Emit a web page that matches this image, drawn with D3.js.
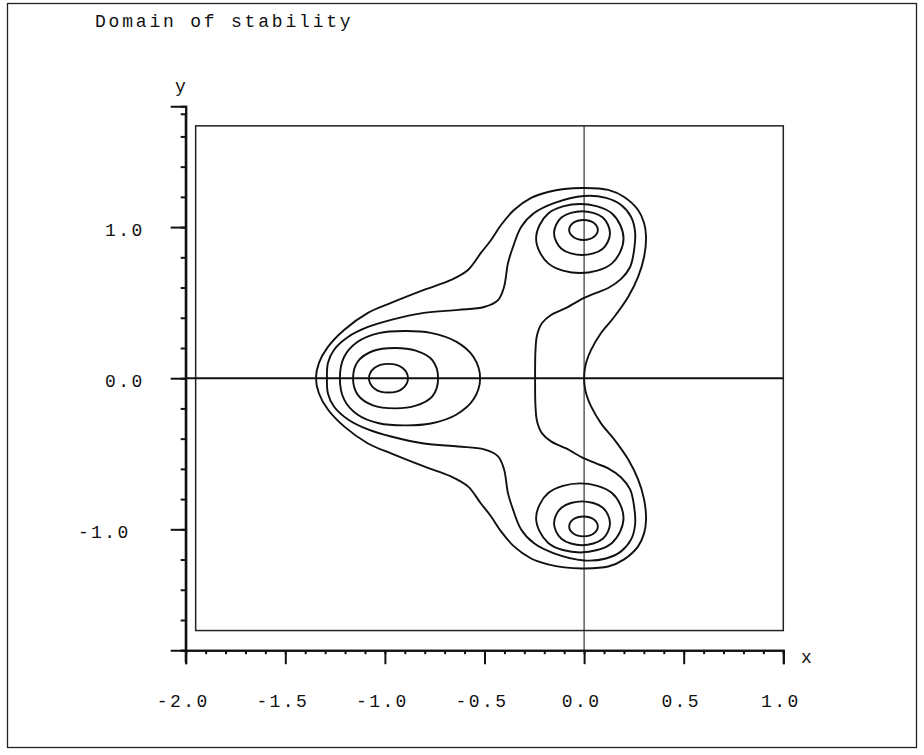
<!DOCTYPE html>
<html>
<head>
<meta charset="utf-8">
<script src="https://cdn.jsdelivr.net/npm/d3@7"></script>
<style>
  body { margin: 0; background: #fff; }
  text { font-family: "Liberation Mono", "DejaVu Sans Mono", monospace; fill: #111; }
</style>
</head>
<body>
<div id="chart"></div>
<script>
// tick labels
const xTickLabels = [-2.0, -1.5, -1.0, -0.5, 0.0, 0.5, 1.0];
const yTickLabels = [-1.0, 0.0, 1.0];

// plotting box of the domain
const boxX = [-1.95, 1.0];
const boxY = [-1.67, 1.67];

// contour lines, [x, y]
const outerContour = [
  [0.000, 0.000], [0.003, 0.054], [0.012, 0.110], [0.035, 0.187], [0.085, 0.299], [0.151, 0.405],
  [0.221, 0.537], [0.271, 0.670], [0.301, 0.802], [0.311, 0.935], [0.301, 1.027],
  [0.271, 1.113], [0.201, 1.199], [0.121, 1.246], [0.000, 1.259], [-0.100, 1.252],
  [-0.181, 1.232], [-0.266, 1.193], [-0.352, 1.113], [-0.417, 1.014], [-0.467, 0.915],
  [-0.518, 0.829], [-0.583, 0.716], [-0.668, 0.650], [-0.804, 0.584], [-0.969, 0.498],
  [-1.085, 0.432], [-1.205, 0.319], [-1.286, 0.207], [-1.331, 0.101], [-1.346, 0.000],
  [-1.331, -0.101], [-1.286, -0.207], [-1.205, -0.319], [-1.085, -0.432], [-0.969, -0.498],
  [-0.804, -0.584], [-0.668, -0.650], [-0.583, -0.716], [-0.518, -0.829], [-0.467, -0.915],
  [-0.417, -1.014], [-0.352, -1.113], [-0.266, -1.193], [-0.181, -1.232], [-0.100, -1.252],
  [0.000, -1.259], [0.121, -1.246], [0.201, -1.199], [0.271, -1.113], [0.301, -1.027],
  [0.311, -0.935], [0.301, -0.802], [0.271, -0.670], [0.221, -0.537], [0.151, -0.405],
  [0.085, -0.299], [0.035, -0.187], [0.012, -0.110], [0.003, -0.054]
];

const innerContour = [
  [-0.246, 0.000], [-0.244, 0.187], [-0.236, 0.286], [-0.211, 0.365], [-0.166, 0.418],
  [-0.090, 0.465], [0.000, 0.531], [0.060, 0.564], [0.121, 0.597], [0.186, 0.657],
  [0.231, 0.736], [0.251, 0.848], [0.256, 0.968], [0.236, 1.067], [0.186, 1.146],
  [0.110, 1.193], [0.000, 1.206], [-0.151, 1.159], [-0.251, 1.093], [-0.316, 1.001],
  [-0.357, 0.868], [-0.382, 0.762], [-0.402, 0.603], [-0.432, 0.517], [-0.502, 0.471],
  [-0.633, 0.452], [-0.804, 0.432], [-0.969, 0.386], [-1.085, 0.339], [-1.185, 0.273],
  [-1.256, 0.187], [-1.286, 0.101], [-1.291, 0.000],
  [-1.286, -0.101], [-1.256, -0.187], [-1.185, -0.273], [-1.085, -0.339], [-0.969, -0.386],
  [-0.804, -0.432], [-0.633, -0.452], [-0.502, -0.471], [-0.432, -0.517], [-0.402, -0.603],
  [-0.382, -0.762], [-0.357, -0.868], [-0.316, -1.001], [-0.251, -1.093], [-0.151, -1.159],
  [0.000, -1.206], [0.110, -1.193], [0.186, -1.146], [0.236, -1.067], [0.256, -0.968],
  [0.251, -0.848], [0.231, -0.736], [0.186, -0.657], [0.121, -0.597], [0.060, -0.564],
  [0.000, -0.531], [-0.090, -0.465], [-0.166, -0.418], [-0.211, -0.365], [-0.236, -0.286],
  [-0.244, -0.187]
];

// closed rings round the three centres
const leftRing1 = [
  [-0.884, 0.000], [-0.911, 0.068], [-0.982, 0.095], [-1.053, 0.068], [-1.080, 0.000],
  [-1.053, -0.068], [-0.982, -0.095], [-0.911, -0.068]
];
const leftRing2 = [
  [-0.733, 0.000], [-0.762, 0.120], [-0.845, 0.182], [-0.950, 0.200], [-1.060, 0.180],
  [-1.135, 0.112], [-1.160, 0.000], [-1.135, -0.112], [-1.060, -0.180], [-0.950, -0.200],
  [-0.845, -0.182], [-0.762, -0.120]
];
const leftRing3 = [
  [-0.522, 0.000], [-0.555, 0.140], [-0.640, 0.240], [-0.770, 0.300], [-0.900, 0.312],
  [-1.030, 0.298], [-1.140, 0.238], [-1.205, 0.140], [-1.226, 0.000], [-1.205, -0.140],
  [-1.140, -0.238], [-1.030, -0.298], [-0.900, -0.312], [-0.770, -0.300], [-0.640, -0.240],
  [-0.555, -0.140]
];
const topRing1 = [
  [0.069, 0.981], [0.048, 1.028], [-0.003, 1.047], [-0.054, 1.028], [-0.075, 0.981],
  [-0.054, 0.934], [-0.003, 0.915], [0.048, 0.934]
];
const topRing2 = [
  [0.130, 0.960], [0.094, 1.063], [-0.010, 1.105], [-0.114, 1.063], [-0.151, 0.960],
  [-0.114, 0.857], [-0.010, 0.815], [0.094, 0.857]
];
const topRing3 = [
  [0.198, 0.925], [0.140, 1.090], [-0.020, 1.153], [-0.180, 1.090], [-0.241, 0.925],
  [-0.180, 0.760], [-0.020, 0.696], [0.140, 0.760]
];
const bottomRing1 = [
  [0.069, -0.981], [0.048, -0.934], [-0.003, -0.915], [-0.054, -0.934], [-0.075, -0.981],
  [-0.054, -1.028], [-0.003, -1.047], [0.048, -1.028]
];
const bottomRing2 = [
  [0.130, -0.960], [0.094, -0.857], [-0.010, -0.815], [-0.114, -0.857], [-0.151, -0.960],
  [-0.114, -1.063], [-0.010, -1.105], [0.094, -1.063]
];
const bottomRing3 = [
  [0.198, -0.925], [0.140, -0.760], [-0.020, -0.696], [-0.180, -0.760], [-0.241, -0.925],
  [-0.180, -1.090], [-0.020, -1.153], [0.140, -1.090]
];

const contours = [outerContour, innerContour,
  leftRing1, leftRing2, leftRing3,
  topRing1, topRing2, topRing3,
  bottomRing1, bottomRing2, bottomRing3];

window.addEventListener("load", () => {

  const width = 924;
  const height = 755;
  const fontSize = 18;

  const svg = d3.select("#chart").append("svg")
                .attr("width", width)
                .attr("height", height);

  // scales
  const x = d3.scaleLinear().domain([-2, 1]).range([185.7, 783.3]);
  const y = d3.scaleLinear().domain([-1.8, 1.8]).range([650.2, 106.2]);
  const yTop = 1.75;

  // outer frame
  svg.append("rect")
      .attr("x", 7.5).attr("y", 3.5)
      .attr("width", 909).attr("height", 744)
      .attr("fill", "none")
      .attr("stroke", "#222")
      .attr("stroke-width", 1.3);

  // title
  svg.append("text")
      .attr("x", 95).attr("y", 27)
      .attr("font-size", fontSize)
      .attr("letter-spacing", 2.8)
      .text("Domain of stability");

  // box of the domain
  svg.append("rect")
      .attr("x", x(boxX[0])).attr("y", y(boxY[1]))
      .attr("width", x(boxX[1]) - x(boxX[0]))
      .attr("height", y(boxY[0]) - y(boxY[1]))
      .attr("fill", "none")
      .attr("stroke", "#222")
      .attr("stroke-width", 1.5);

  // zero lines
  svg.append("line")
      .attr("x1", x(-2)).attr("x2", x(boxX[1]))
      .attr("y1", y(0)).attr("y2", y(0))
      .attr("stroke", "#111").attr("stroke-width", 2);
  svg.append("line")
      .attr("x1", x(0)).attr("x2", x(0))
      .attr("y1", y(boxY[1])).attr("y2", y(-1.8))
      .attr("stroke", "#222").attr("stroke-width", 1.1);

  // x axis: minor and major ticks
  const xAxisMinor = d3.axisBottom(x)
    .tickValues(d3.range(-20, 11).map(d => d / 10))
    .tickSize(4).tickFormat("");
  const xAxisMajor = d3.axisBottom(x)
    .tickValues(xTickLabels)
    .tickSize(14).tickPadding(30)
    .tickFormat(d3.format(".1f"));

  svg.append("g")
      .attr("class", "axis x-axis")
      .attr("transform", `translate(0,${y(-1.8)})`)
      .call(xAxisMinor);
  const gx = svg.append("g")
      .attr("class", "axis x-axis")
      .attr("transform", `translate(0,${y(-1.8)})`)
      .call(xAxisMajor);
  gx.selectAll("text")
      .attr("font-size", fontSize)
      .attr("letter-spacing", 2.4)
      .attr("dx", -3)
      .style("font-family", "'Liberation Mono', monospace")
      .text(d => d3.format(".1f")(d).replace("\u2212", "-"));

  // y axis: minor and major ticks
  const yAxisMinor = d3.axisLeft(y)
    .tickValues(d3.range(-9, 9).map(d => d / 5).concat([yTop]))
    .tickSize(5).tickFormat("");
  const yAxisMajor = d3.axisLeft(y)
    .tickValues(yTickLabels)
    .tickSize(15).tickPadding(26)
    .tickFormat(d => d3.format(".1f")(d).replace("\u2212", "-"));

  svg.append("g")
      .attr("class", "axis y-axis")
      .attr("transform", `translate(${x(-2)},0)`)
      .call(yAxisMinor);
  const gy = svg.append("g")
      .attr("class", "axis y-axis")
      .attr("transform", `translate(${x(-2)},0)`)
      .call(yAxisMajor);
  // negative labels sit one character further left in the original
  gy.selectAll("text")
      .attr("font-size", fontSize)
      .attr("letter-spacing", 2.4)
      .attr("dy", "0.45em")
      .attr("dx", d => d < 0 ? -14 : 0)
      .style("font-family", "'Liberation Mono', monospace");

  // axis line styling
  svg.selectAll(".axis path.domain")
      .attr("stroke", "#111").attr("stroke-width", 2);
  svg.selectAll(".axis .tick line")
      .attr("stroke", "#111").attr("stroke-width", 2);

  // extend the y axis up to its top end
  svg.append("line")
      .attr("x1", x(-2)).attr("x2", x(-2))
      .attr("y1", y(yTop)).attr("y2", y(-1.8) + 12)
      .attr("stroke", "#111").attr("stroke-width", 2);

  // axis names
  svg.append("text")
      .attr("x", 175).attr("y", 92)
      .attr("font-size", fontSize)
      .text("y");
  svg.append("text")
      .attr("x", 801).attr("y", 663)
      .attr("font-size", fontSize)
      .text("x");

  // contour lines
  const line = d3.line()
    .x(d => x(d[0]))
    .y(d => y(d[1]))
    .curve(d3.curveCatmullRomClosed.alpha(0.5));

  svg.append("g")
      .attr("class", "contours")
    .selectAll("path")
    .data(contours)
    .enter().append("path")
      .attr("d", line)
      .attr("fill", "none")
      .attr("stroke", "#111")
      .attr("stroke-width", 1.9);
});
</script>
</body>
</html>
